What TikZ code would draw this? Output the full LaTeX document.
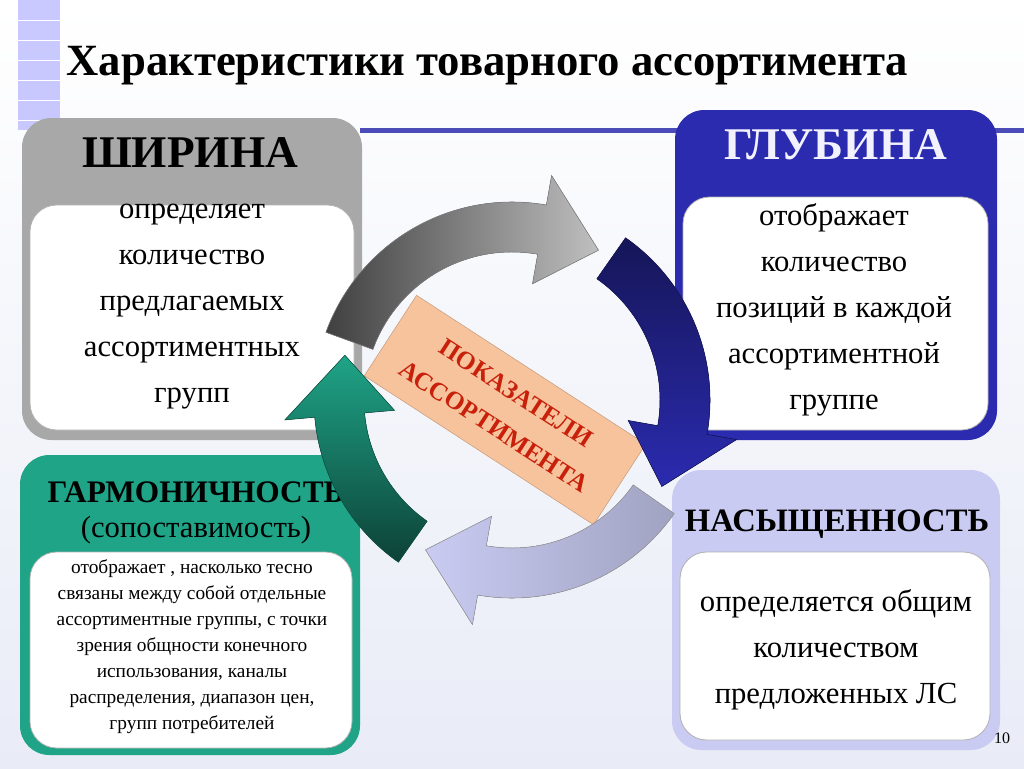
\documentclass[tikz,border=0pt]{standalone}
\usepackage{fontspec}
\setmainfont{Liberation Serif}
\begin{document}
\begin{tikzpicture}[x=0.75pt,y=-0.75pt]
\definecolor{bgc}{HTML}{E9ECF7}
\definecolor{grayb}{HTML}{A8A8A8}
\definecolor{blueb}{HTML}{2B2BB0}
\definecolor{tealb}{HTML}{1FA487}
\definecolor{lavb}{HTML}{C9CBF2}
\definecolor{redt}{HTML}{C8200A}
\definecolor{peach}{HTML}{F7C39C}
\tikzset{
 outerbox/.style={rounded corners=22pt,inner sep=0pt},
 innerbox/.style={fill=white,rounded corners=20pt,draw=black!30,line width=0.6pt},
 bodytext/.style={align=center,font=\fontsize{23}{34.5}\selectfont},
 smalltext/.style={align=center,font=\fontsize{14.5}{19.5}\selectfont},
}
\useasboundingbox (0,0) rectangle (1024,768);
\shade[top color=white,bottom color=bgc] (0,0) rectangle (1024,768);
\fill[blue!35!white,opacity=0.6] (18,0) rectangle (60,130);
\foreach \y in {20,40,...,120} \draw[white,line width=0.5pt] (18,\y) -- (60,\y);
\fill[blue!60!black!70] (360,128) rectangle (1024,133);
\node[anchor=west,font=\bfseries\fontsize{33.5}{38}\selectfont] (title) at (62,66) {Характеристики товарного ассортимента};
% boxes
\fill[grayb,outerbox] (22,118) rectangle (362,440);
\fill[innerbox] (30,205) rectangle (354,430);
\node[font=\bfseries\fontsize{34}{40}\selectfont] (w) at (190,153) {ШИРИНА};
\node[bodytext] (wt) at (192,307) {определяет\\количество\\предлагаемых\\ассортиментных\\групп};
\fill[blueb,outerbox] (675,110) rectangle (997,440);
\fill[innerbox] (683,197) rectangle (988,430);
\node[font=\bfseries\fontsize{34}{40}\selectfont,text=white!95!blue] (g) at (836,145) {ГЛУБИНА};
\node[bodytext] (gt) at (834,310) {отображает\\количество\\позиций в каждой\\ассортиментной\\группе};
\fill[tealb,outerbox] (20,455) rectangle (360,755);
\fill[innerbox] (30,552) rectangle (352,748);
\node[font=\bfseries\fontsize{23.5}{30}\selectfont] (h) at (196,492) {ГАРМОНИЧНОСТЬ};
\node[font=\fontsize{23}{28}\selectfont] (h2) at (196,530) {(сопоставимость)};
\node[smalltext] (ht) at (192,647) {отображает , насколько тесно\\связаны между собой отдельные\\ассортиментные группы, с точки\\зрения общности конечного\\использования, каналы\\распределения, диапазон цен,\\групп потребителей};
\fill[lavb,outerbox] (672,470) rectangle (1000,750);
\fill[innerbox] (680,552) rectangle (990,740);
\node[font=\bfseries\fontsize{24.5}{30}\selectfont] (n) at (837,524) {НАСЫЩЕННОСТЬ};
\node[bodytext] (nt) at (836,650) {определяется общим\\количеством\\предложенных ЛС};
% center label
\node[fill=peach,draw=peach!80!black,minimum width=205pt,minimum height=72pt,rotate=-33,
 align=center,text=redt,font=\bfseries\fontsize{19}{30}\selectfont] (c) at (505,410) {ПОКАЗАТЕЛИ\\АССОРТИМЕНТА};
% arrows
\coordinate (o) at (512,400);
\newcommand{\myarrow}[3]{% start, end angle (flipped coords), fill opts
 \fill[#3] ([shift={(o)}]#1:198) arc[start angle=#1,end angle=#2,radius=198]
  -- ([shift={(o)}]#2:228) -- ([shift={(o)}]#2+20:173) -- ([shift={(o)}]#2:118)
  -- ([shift={(o)}]#2:148) arc[start angle=#2,end angle=#1,radius=148] -- cycle;}
\myarrow{-160}{-80}{left color=black!75,right color=black!25,draw=black!50}
\myarrow{-55}{10}{top color=blueb!50!black,bottom color=blueb,draw=blueb!50!black}
\myarrow{35}{100}{right color=lavb!80!black,left color=lavb,draw=black!40}
\myarrow{125}{175}{bottom color=tealb!40!black,top color=tealb,draw=tealb!50!black}
\node[font=\fontsize{12}{14}\selectfont] (pg) at (1002,738) {10};
\end{tikzpicture}
\end{document}
